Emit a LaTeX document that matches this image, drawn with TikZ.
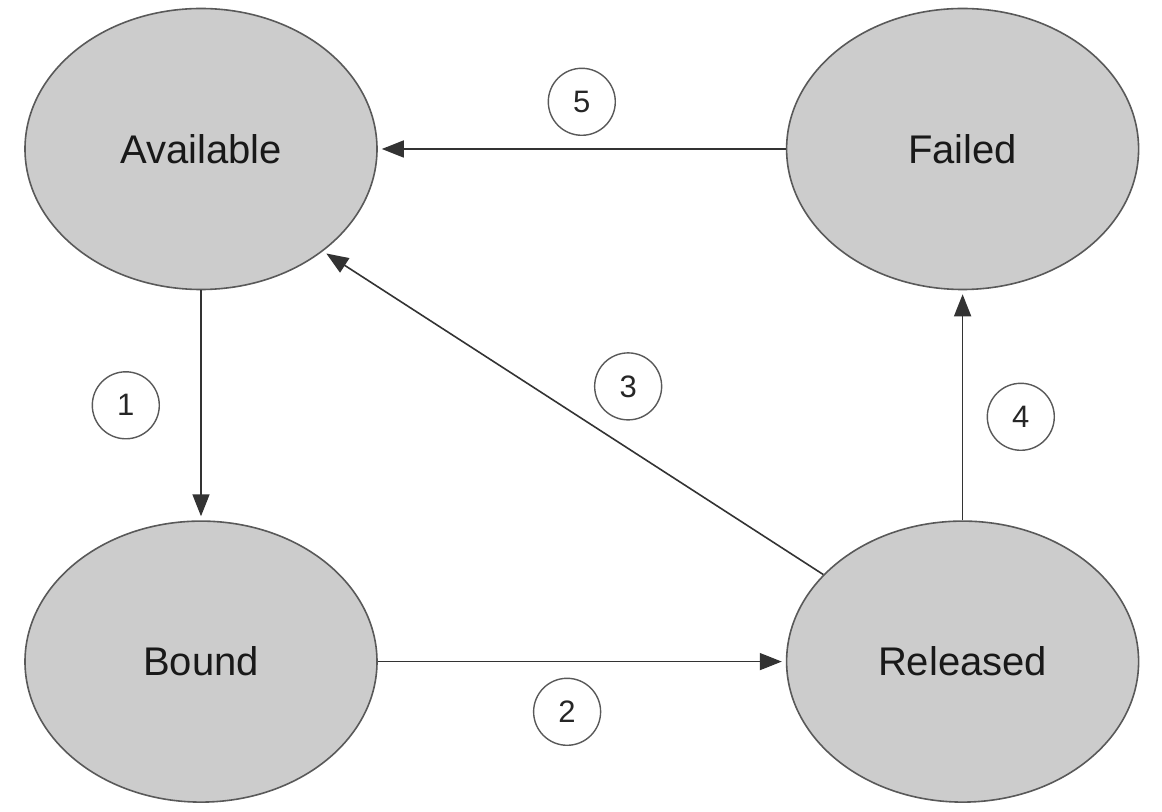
\documentclass[tikz,border=0pt]{standalone}
\usepackage{fontspec}
\setmainfont{Liberation Sans}
\usepackage{xcolor}
\usepackage{tikz}
\usetikzlibrary{arrows.meta, positioning, shapes.geometric}

\begin{document}
\begin{tikzpicture}[
  state/.style={draw=black!65, line width=0.8pt, fill=black!20, ellipse, minimum width=176pt, minimum height=140.5pt, inner sep=0pt, text=black!90, font=\fontsize{20}{24}\selectfont},
  numlabel/.style={draw=black!65, line width=0.7pt, circle, minimum size=33.5pt, inner sep=0pt, fill=white, text=black!85, font=\fontsize{15.5}{18}\selectfont},
  trans/.style={-{Triangle[length=11pt, width=8.5pt]}, draw=black!80, line width=0.8pt, shorten >=2pt},
  node distance=115pt and 204pt,
]
\useasboundingbox (-100.5pt,74.5pt) rectangle (480.5pt,-331.5pt);
\node[state] (avail) at (0,0) {Available};
\node[state, right=of avail] (failed) {Failed};
\node[state, below=of avail] (bound) {Bound};
\node[state, right=of bound] (released) {Released};
\draw[trans] (avail.south) -- (bound.north) node[numlabel, midway, left=20.5pt] {1};
\draw[trans] (bound.east) -- (released.west) node[numlabel, pos=0.464, below=8pt] {2};
\draw[trans] (released.148) -- (avail.320) node[numlabel, pos=0.446, xshift=14pt, yshift=22pt] {3};
\draw[trans] (released.north) -- (failed.south) node[numlabel, pos=0.45, right=12pt] {4};
\draw[trans] (failed.west) -- (avail.east) node[numlabel, midway, above=6.5pt] {5};
\end{tikzpicture}
\end{document}
